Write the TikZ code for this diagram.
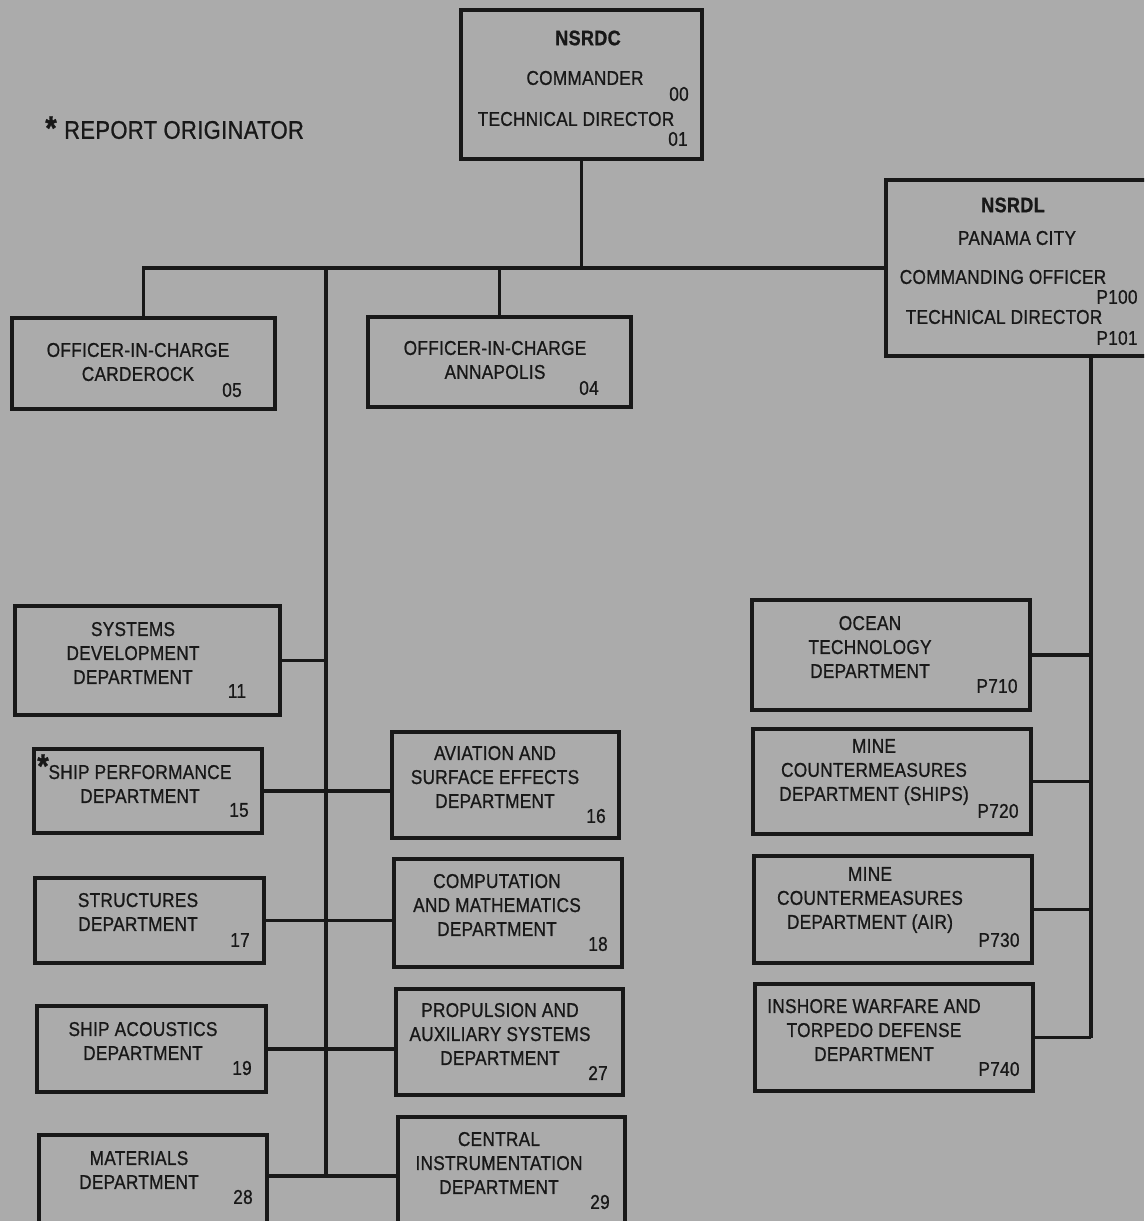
\documentclass[tikz,border=0pt]{standalone}
\usepackage{fontspec}
\setmainfont{Liberation Sans}[FakeStretch=0.86, FakeBold=0.9, LetterSpace=1.5]
\definecolor{paper}{RGB}{171,171,171}
\definecolor{ink}{RGB}{24,24,24}
\begin{document}
\begin{tikzpicture}[x=1pt,y=-1pt,
  box/.style={draw=ink, line width=4.2pt, inner sep=0pt},
  wire/.style={draw=ink, line width=3.1pt},
  lbl/.style={text=ink, align=center, inner sep=0pt, font=\fontsize{20}{24}\selectfont},
  code/.style={text=ink, inner sep=0pt, font=\fontsize{20}{24}\selectfont},
  head/.style={text=ink, inner sep=0pt, font=\fontsize{21}{24}\selectfont\bfseries},
  star/.style={text=ink, inner sep=0pt, font=\fontsize{34}{34}\selectfont\bfseries}]
\useasboundingbox (0,0) rectangle (1144,1221);
\fill[paper] (0,0) rectangle (1144,1221);
\clip (0,0) rectangle (1144,1221);

% boxes
\node[box, minimum width=241pt, minimum height=149pt] (nsrdc) at (581.5,84.5) {};
\node[box, minimum width=264pt, minimum height=176pt] (nsrdl) at (1018,268) {};
\node[box, minimum width=263pt, minimum height=91pt] (card) at (143.5,363.5) {};
\node[box, minimum width=263pt, minimum height=90pt] (anna) at (499.5,362) {};
\node[box, minimum width=265pt, minimum height=109pt] (sysdev) at (147.5,660.5) {};
\node[box, minimum width=228pt, minimum height=84pt] (shipperf) at (148,791) {};
\node[box, minimum width=229pt, minimum height=85pt] (struct) at (149.5,920.5) {};
\node[box, minimum width=229pt, minimum height=86pt] (acou) at (151.5,1049) {};
\node[box, minimum width=228pt, minimum height=105pt] (mat) at (153,1187.5) {};
\node[box, minimum width=227pt, minimum height=106pt] (avi) at (505.5,785) {};
\node[box, minimum width=228pt, minimum height=108pt] (comp) at (508,913) {};
\node[box, minimum width=227pt, minimum height=106pt] (prop) at (509.5,1042) {};
\node[box, minimum width=227pt, minimum height=123pt] (cent) at (511.5,1178.5) {};
\node[box, minimum width=278pt, minimum height=110pt] (ocean) at (891,655) {};
\node[box, minimum width=278pt, minimum height=105pt] (mcms) at (892,781.5) {};
\node[box, minimum width=278pt, minimum height=107pt] (mcma) at (893,909.5) {};
\node[box, minimum width=278pt, minimum height=107pt] (insh) at (894,1037.5) {};

% connectors
\coordinate (hub) at (581.5,268);
\coordinate (ttop) at (326,268);
\coordinate (tbot) at (326,1176);
\coordinate (rbus) at (1091,0);
\draw[wire] (nsrdc.south) -- (hub);
\draw[wire] (card.north) |- (nsrdl.west);
\draw[wire] (anna.north) -- (anna.north |- hub);
\draw[wire] (ttop) -- (tbot);
\draw[wire] (sysdev.east) -- (sysdev.east -| ttop);
\draw[wire] (shipperf.east) -- (shipperf.east -| avi.west);
\draw[wire] (struct.east) -- (struct.east -| comp.west);
\draw[wire] (acou.east) -- (acou.east -| prop.west);
\draw[wire] (tbot -| mat.east) -- (tbot -| cent.west);
\draw[wire] (rbus |- nsrdl.south) -- (rbus |- insh.east);
\draw[wire] (ocean.east) -- (ocean.east -| rbus);
\draw[wire] (mcms.east) -- (mcms.east -| rbus);
\draw[wire] (mcma.east) -- (mcma.east -| rbus);
\draw[wire] (insh.east) -- (insh.east -| rbus);

% legend
\node[star] (legstar) at (51,128) {*};
\node[text=ink, inner sep=0pt, anchor=west, font=\fontsize{25.5}{28}\selectfont] (legend) at (64,130) {REPORT ORIGINATOR};

% NSRDC
\node[head] (t1) at (588,38) {NSRDC};
\node[lbl] (t2) at (585,78) {COMMANDER};
\node[code] (t3) at (679,94) {00};
\node[lbl] (t4) at (576,119) {TECHNICAL DIRECTOR};
\node[code] (t5) at (678,139) {01};

% NSRDL
\node[head] (t6) at (1013,205) {NSRDL};
\node[lbl] (t7) at (1017,238) {PANAMA CITY};
\node[lbl] (t8) at (1003,277) {COMMANDING OFFICER};
\node[code] (t9) at (1117,297) {P100};
\node[lbl] (t10) at (1004,317) {TECHNICAL DIRECTOR};
\node[code] (t11) at (1117,338) {P101};

% officers in charge
\node[lbl] (t12) at (138,362) {OFFICER-IN-CHARGE\\CARDEROCK};
\node[code] (t13) at (232,390) {05};
\node[lbl] (t14) at (495,360) {OFFICER-IN-CHARGE\\ANNAPOLIS};
\node[code] (t15) at (589,388) {04};

% left column
\node[lbl] (t16) at (133,653) {SYSTEMS\\DEVELOPMENT\\DEPARTMENT};
\node[code] (t17) at (237,691) {11};
\node[star] (t18) at (43,766) {*};
\node[lbl] (t19) at (140,784) {SHIP PERFORMANCE\\DEPARTMENT};
\node[code] (t20) at (239,810) {15};
\node[lbl] (t21) at (138,912) {STRUCTURES\\DEPARTMENT};
\node[code] (t22) at (240,940) {17};
\node[lbl] (t23) at (143,1041) {SHIP ACOUSTICS\\DEPARTMENT};
\node[code] (t24) at (242,1068) {19};
\node[lbl] (t25) at (139,1170) {MATERIALS\\DEPARTMENT};
\node[code] (t26) at (243,1197) {28};

% middle column
\node[lbl] (t27) at (495,777) {AVIATION AND\\SURFACE EFFECTS\\DEPARTMENT};
\node[code] (t28) at (596,816) {16};
\node[lbl] (t29) at (497,905) {COMPUTATION\\AND MATHEMATICS\\DEPARTMENT};
\node[code] (t30) at (598,944) {18};
\node[lbl] (t31) at (500,1034) {PROPULSION AND\\AUXILIARY SYSTEMS\\DEPARTMENT};
\node[code] (t32) at (598,1073) {27};
\node[lbl] (t33) at (499,1163) {CENTRAL\\INSTRUMENTATION\\DEPARTMENT};
\node[code] (t34) at (600,1202) {29};

% right column
\node[lbl] (t35) at (870,647) {OCEAN\\TECHNOLOGY\\DEPARTMENT};
\node[code] (t36) at (997,686) {P710};
\node[lbl] (t37) at (874,772) {MINE\\COUNTERMEASURES\\DEPARTMENT (SHIPS)};
\node[code] (t38) at (998,811) {P720};
\node[lbl] (t39) at (870,900) {MINE\\COUNTERMEASURES\\DEPARTMENT (AIR)};
\node[code] (t40) at (999,940) {P730};
\node[lbl] (t41) at (874,1030) {INSHORE WARFARE AND\\TORPEDO DEFENSE\\DEPARTMENT};
\node[code] (t42) at (999,1069) {P740};
\end{tikzpicture}
\end{document}
